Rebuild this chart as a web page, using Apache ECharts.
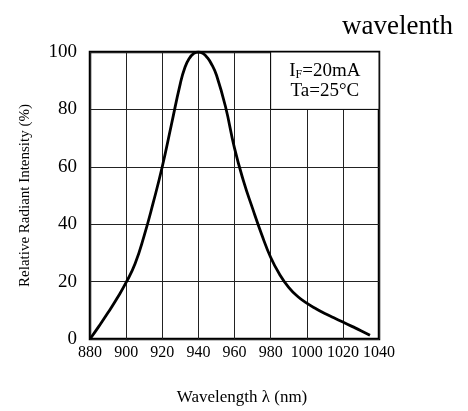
<!DOCTYPE html>
<html>
<head>
<meta charset="utf-8">
<script src="https://cdn.jsdelivr.net/npm/echarts@6/dist/echarts.min.js"></script>
<style>
html,body{margin:0;padding:0;background:#fff;}
#chart{width:468px;height:411px;}
</style>
</head>
<body>
<div id="chart"></div>
<script>
const wavelengths = [880, 885, 890, 895, 900, 905, 910, 915, 920, 925, 930, 932.5, 935, 937.5, 940, 942.5, 945, 947.5, 950, 955, 960, 965, 970, 975, 980, 985, 990, 995, 1000, 1005, 1010, 1015, 1020, 1025, 1030, 1035];
const intensity   = [0, 4.5, 9.2, 14.2, 19.7, 26.3, 36, 47.5, 60, 74.5, 89, 94.5, 97.8, 99.5, 100, 99.5, 98, 95.5, 92, 81, 66.5, 55, 45.5, 36.5, 28.5, 22.5, 18, 14.8, 12.5, 10.6, 8.9, 7.4, 5.9, 4.4, 2.9, 1.3];
const xTicks = [880, 900, 920, 940, 960, 980, 1000, 1020, 1040];
const yTicks = [0, 20, 40, 60, 80, 100];
const noteBox = { x: [980, 1040], y: [80, 100] };
const titleText = 'wavelenth';
const xName = 'Wavelength λ (nm)';
const yName = 'Relative Radiant Intensity (%)';

const FONT = '"Liberation Serif", "Times New Roman", serif';
const chart = echarts.init(document.getElementById('chart'), null, {renderer: 'canvas'});
chart.setOption({
  backgroundColor: '#fff',
  animation: false,
  title: {
    text: titleText,
    left: 342,
    top: 13,
    padding: 0,
    textStyle: { fontFamily: FONT, fontWeight: 'normal', fontSize: 27, color: '#000' }
  },
  grid: {
    left: 90, right: 89, top: 52, bottom: 70,
    show: true, borderColor: '#000', borderWidth: 2.5, backgroundColor: 'transparent'
  },
  xAxis: {
    type: 'value',
    min: xTicks[0], max: xTicks[xTicks.length - 1], interval: xTicks[1] - xTicks[0],
    name: xName,
    nameLocation: 'middle',
    nameGap: 50,
    nameTextStyle: { fontFamily: FONT, fontSize: 17, color: '#000', padding: [0, 0, 0, 15] },
    axisLine: { show: false },
    axisTick: { show: false },
    axisLabel: { fontFamily: FONT, fontSize: 16, color: '#000', margin: 6, formatter: v => String(v) },
    splitLine: { show: true, lineStyle: { color: '#222', width: 1 } }
  },
  yAxis: {
    type: 'value',
    min: yTicks[0], max: yTicks[yTicks.length - 1], interval: yTicks[1] - yTicks[0],
    name: yName,
    nameLocation: 'middle',
    nameGap: 57,
    nameTextStyle: { fontFamily: FONT, fontSize: 15, color: '#000' },
    axisLine: { show: false },
    axisTick: { show: false },
    axisLabel: { fontFamily: FONT, fontSize: 19, color: '#000', margin: 13, formatter: v => String(v) },
    splitLine: { show: true, lineStyle: { color: '#222', width: 1 } }
  },
  series: [{
    type: 'line',
    data: wavelengths.map((w, i) => [w, intensity[i]]),
    smooth: 0.5,
    showSymbol: false,
    lineStyle: { color: '#000', width: 2.8 },
    z: 3,
    markArea: {
      silent: true,
      itemStyle: { color: '#fff', borderColor: '#000', borderWidth: 1 },
      label: {
        show: true,
        position: 'inside',
        color: '#000',
        formatter: '{a|I}{s|F}{a|=20mA}\n{a|Ta=25°C}',
        rich: {
          a: { fontFamily: FONT, fontSize: 19, lineHeight: 20, color: '#000' },
          s: { fontFamily: FONT, fontSize: 12, lineHeight: 15, verticalAlign: 'bottom', color: '#000' }
        }
      },
      data: [[{ coord: [noteBox.x[0], noteBox.y[1]] }, { coord: [noteBox.x[1], noteBox.y[0]] }]]
    }
  }]
});
</script>
</body>
</html>
